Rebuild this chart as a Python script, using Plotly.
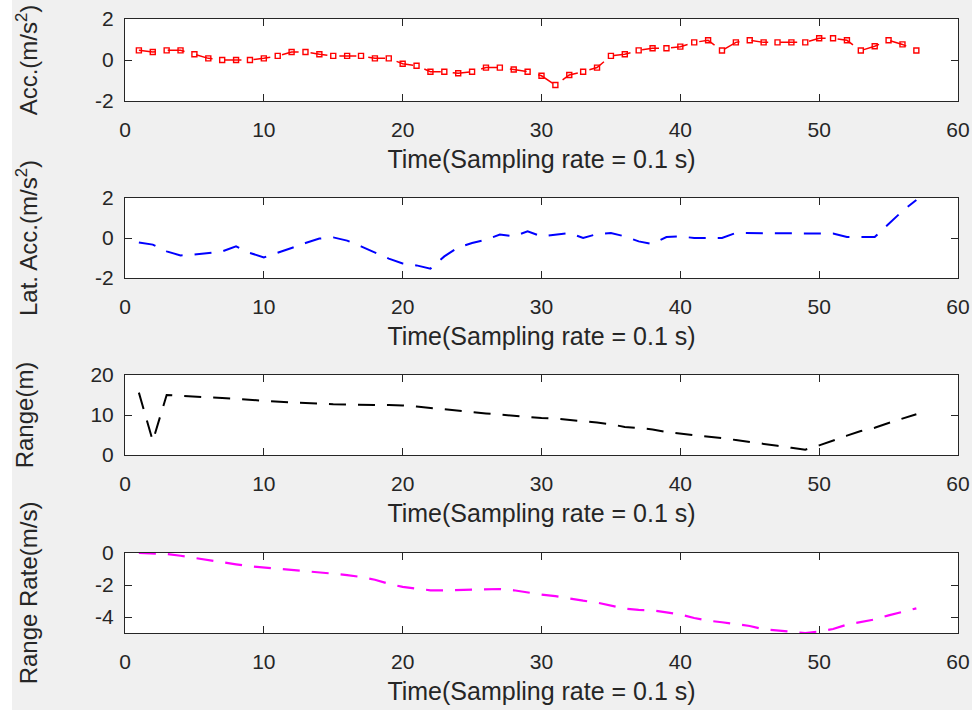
import plotly.graph_objects as go

# Sample index (sampling interval 0.1 s)
samples = list(range(1, 58))

# Longitudinal acceleration (m/s^2)
acc = [0.47, 0.39, 0.47, 0.47, 0.28, 0.08, 0.0, 0.0, 0.0, 0.08,
       0.2, 0.39, 0.39, 0.28, 0.2, 0.2, 0.2, 0.08, 0.08, -0.18,
       -0.28, -0.57, -0.57, -0.65, -0.57, -0.37, -0.37, -0.46, -0.57, -0.77,
       -1.22, -0.73, -0.57, -0.37, 0.2, 0.28, 0.47, 0.57, 0.57, 0.65,
       0.86, 0.96, 0.46, 0.86, 0.96, 0.86, 0.86, 0.86, 0.86, 1.06,
       1.06, 0.96, 0.46, 0.67, 0.96, 0.76, 0.46]

# Lateral acceleration (m/s^2)
lat_acc = [-0.23, -0.33, -0.67, -0.87, -0.83, -0.75, -0.67, -0.42, -0.75, -0.97,
           -0.75, -0.5, -0.25, -0.03, 0.03, -0.13, -0.42, -0.72, -1.03, -1.27,
           -1.37, -1.53, -0.92, -0.47, -0.25, -0.08, 0.17, 0.08, 0.33, 0.08,
           0.17, 0.25, 0.0, 0.2, 0.25, 0.08, -0.17, -0.3, 0.05, 0.08,
           0.0, 0.0, 0.0, 0.25, 0.25, 0.25, 0.25, 0.25, 0.22, 0.22,
           0.22, 0.05, 0.05, 0.05, 0.7, 1.35, 1.9]

# Range to target (m)
rng = [15.6, 3.5, 15.0, 14.75, 14.67, 14.4, 14.25, 14.0, 13.75, 13.5,
       13.33, 13.1, 13.0, 12.8, 12.67, 12.6, 12.5, 12.5, 12.5, 12.4,
       12.1, 11.8, 11.5, 11.2, 10.75, 10.4, 10.1, 9.75, 9.5, 9.25,
       9.1, 8.8, 8.5, 8.1, 7.7, 7.0, 6.75, 6.4, 5.75, 5.4,
       5.0, 4.67, 4.2, 3.75, 3.3, 2.9, 2.3, 1.8, 1.33, 2.4,
       3.67, 4.83, 6.0, 6.8, 8.0, 9.1, 10.2]

# Range rate (m/s)
range_rate = [0.0, -0.02, -0.06, -0.17, -0.31, -0.46, -0.58, -0.71, -0.83, -0.9,
              -1.0, -1.06, -1.15, -1.21, -1.29, -1.38, -1.5, -1.67, -1.92, -2.12,
              -2.21, -2.33, -2.33, -2.31, -2.25, -2.23, -2.25, -2.33, -2.48, -2.6,
              -2.7, -2.85, -2.98, -3.1, -3.29, -3.48, -3.56, -3.58, -3.71, -3.85,
              -4.06, -4.23, -4.33, -4.44, -4.56, -4.77, -4.85, -4.92, -5.0, -4.9,
              -4.75, -4.48, -4.33, -4.15, -3.9, -3.69, -3.46]

x_ticks = [0, 10, 20, 30, 40, 50, 60]
x_title = "Time(Sampling rate = 0.1 s)"
y_titles = ["Acc.(m/s<sup>2</sup>)", "Lat. Acc.(m/s<sup>2</sup>)",
            "Range(m)", "Range Rate(m/s)"]
y_ranges = [[-2, 2], [-2, 2], [0, 20], [-5, 0]]
y_tickvals = [[-2, 0, 2], [-2, 0, 2], [0, 10, 20], [-4, -2, 0]]

# Page geometry (pixels)
W_PX, H_PX = 976, 710
ML, MR, MT, MB = 125, 18, 19, 77
PW = W_PX - ML - MR
PH = H_PX - MT - MB
# top/bottom pixel rows of each axes box
boxes = [(19, 101), (198, 278), (375, 455), (553, 633)]


def fx(p):
    return (p - ML) / PW


def fy(p):
    return (H_PX - MB - p) / PH


AX = "#262626"
FONT = "Liberation Sans, Arial, Helvetica, sans-serif"
DASH = "17px,12px"

fig = go.Figure()

series = [
    (acc, dict(color="#ff0000", width=1.5, dash=DASH), True),
    (lat_acc, dict(color="#0000ff", width=2, dash=DASH), False),
    (rng, dict(color="#000000", width=2, dash=DASH), False),
    (range_rate, dict(color="#ff00ff", width=2.2, dash=DASH), False),
]

for i, (vals, line, markers) in enumerate(series):
    n = "" if i == 0 else str(i + 1)
    fig.add_trace(go.Scatter(
        x=samples, y=vals, mode="lines+markers" if markers else "lines",
        line=line,
        marker=dict(symbol="square-open", size=5, color="#ff0000",
                    line=dict(width=1.4, color="#ff0000")),
        xaxis="x" + n, yaxis="y" + n, showlegend=False, hoverinfo="x+y",
    ))

layout = dict(
    width=W_PX, height=H_PX,
    margin=dict(l=ML, r=MR, t=MT, b=MB, autoexpand=False),
    paper_bgcolor="#f0f0f0", plot_bgcolor="#ffffff",
    font=dict(family=FONT, size=21, color=AX),
    showlegend=False,
)

for i, (top, bot) in enumerate(boxes):
    n = "" if i == 0 else str(i + 1)
    common = dict(
        showline=True, linecolor=AX, linewidth=1, mirror="ticks",
        ticks="inside", tickcolor=AX, tickwidth=1, ticklen=7,
        showgrid=False, zeroline=False, automargin=False,
        tickfont=dict(family=FONT, size=21, color=AX),
    )
    layout["xaxis" + n] = dict(
        common, domain=[0, 1], range=[0, 60], tickvals=x_ticks,
        ticktext=[str(v) for v in x_ticks],
        anchor="y" + n, ticklabelstandoff=10,
        title=dict(text=x_title, standoff=10,
                   font=dict(family=FONT, size=25, color=AX)),
    )
    layout["yaxis" + n] = dict(
        common, domain=[fy(bot), fy(top)], range=y_ranges[i],
        tickvals=y_tickvals[i], ticktext=[str(v) for v in y_tickvals[i]],
        anchor="x" + n, ticklabelstandoff=6,
        title=dict(text=y_titles[i], standoff=50,
                   font=dict(family=FONT, size=24, color=AX)),
    )

layout["shapes"] = [
    dict(type="rect", xref="paper", yref="paper", layer="below",
         x0=fx(0), x1=fx(12), y0=fy(H_PX), y1=fy(0),
         fillcolor="#ffffff", line=dict(width=0)),
    dict(type="rect", xref="paper", yref="paper", layer="below",
         x0=fx(972), x1=fx(W_PX), y0=fy(H_PX), y1=fy(0),
         fillcolor="#ffffff", line=dict(width=0)),
]

fig.update_layout(**layout)
fig.write_html("out.html")
